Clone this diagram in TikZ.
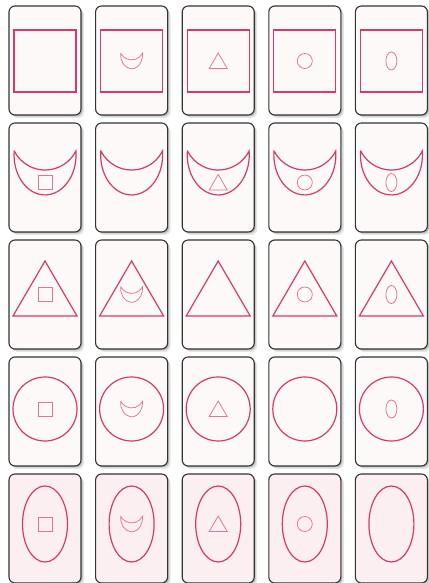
\documentclass[tikz,border=0pt]{standalone}
\definecolor{bigc}{RGB}{214,58,106}
\definecolor{smallc}{RGB}{226,116,152}
\definecolor{edgec}{RGB}{52,52,52}
\definecolor{cardfill}{RGB}{252,249,248}
\definecolor{cardpink}{RGB}{251,239,241}
\tikzset{
  bigline/.style={draw=bigc,line width=1.2pt},
  smallline/.style={draw=smallc,line width=0.75pt},
  cardbox/.style={draw=edgec,line width=1.1pt,rounded corners=6pt},
  shade/.style={fill=black,rounded corners=6pt},
  pics/bsq/.style={code={\draw[bigline] (-31,-31) rectangle (31,31);}},
  pics/ssq/.style={code={\draw[smallline] (-7,-7) rectangle (7,7);}},
  pics/moonpath/.style={code={\draw (-30.8,22) arc[start angle=174.3,end angle=365.7,x radius=31,y radius=40]
        arc[start angle=-26.7,end angle=-153.3,radius=34.5] -- cycle;}},
  pics/btri/.style={code={\draw[bigline] (-32,-27.5) -- (32,-27.5) -- (0,27.5) -- cycle;}},
  pics/stri/.style={code={\draw[smallline] (-9,-7.5) -- (9,-7.5) -- (0,8) -- cycle;}},
  pics/bcir/.style={code={\draw[bigline] (0,0) circle[radius=32];}},
  pics/scir/.style={code={\draw[smallline] (0,0) circle[radius=7.5];}},
  pics/bell/.style={code={\draw[bigline] (0,0) ellipse[x radius=22.5,y radius=38];}},
  pics/sell/.style={code={\draw[smallline] (0,0) ellipse[x radius=5.5,y radius=9];}},
}
\begin{document}
\begin{tikzpicture}[x=1pt,y=1pt]
\useasboundingbox (0,0) rectangle (428,583);
\fill[white] (0,0) rectangle (428,583);
\foreach \r in {0,...,4}{
  \foreach \c in {0,...,4}{
    \pgfmathsetmacro\L{9+86.6*\c}
    \pgfmathsetmacro\T{577-117*\r}
    \pgfmathsetmacro\cx{\L+36}
    \ifcase\r \def\bo{55}\def\so{55}\def\cf{cardfill}%
    \or \def\bo{50}\def\so{59.5}\def\cf{cardfill}%
    \or \def\bo{48.5}\def\so{54.5}\def\cf{cardfill}%
    \or \def\bo{52}\def\so{52}\def\cf{cardfill}%
    \or \def\bo{50}\def\so{50}\def\cf{cardpink}\fi
    % shadow
    \fill[shade,opacity=.10] (\L+3,\T-109-3) rectangle (\L+72+3,\T-3);
    \fill[shade,opacity=.18] (\L+1.5,\T-109-1.5) rectangle (\L+72+1.5,\T-1.5);
    % card
    \filldraw[cardbox,fill=\cf] (\L,\T-109) rectangle (\L+72,\T);
    % big shape
    \ifcase\r
      \pic at (\cx,\T-\bo) {bsq};
    \or
      \pic[bigline] at (\cx,\T-\bo) {moonpath};
    \or
      \pic at (\cx,\T-\bo) {btri};
    \or
      \pic at (\cx,\T-\bo) {bcir};
    \or
      \pic at (\cx,\T-\bo) {bell};
    \fi
    % small shape
    \ifnum\r=\c\relax\else
      \ifcase\c
        \pic at (\cx,\T-\so) {ssq};
      \or
        \pic[smallline,scale=0.355] at (\cx,\T-\so) {moonpath};
      \or
        \pic at (\cx,\T-\so) {stri};
      \or
        \pic at (\cx,\T-\so) {scir};
      \or
        \pic at (\cx,\T-\so) {sell};
      \fi
    \fi
  }
}
\end{tikzpicture}
\end{document}
